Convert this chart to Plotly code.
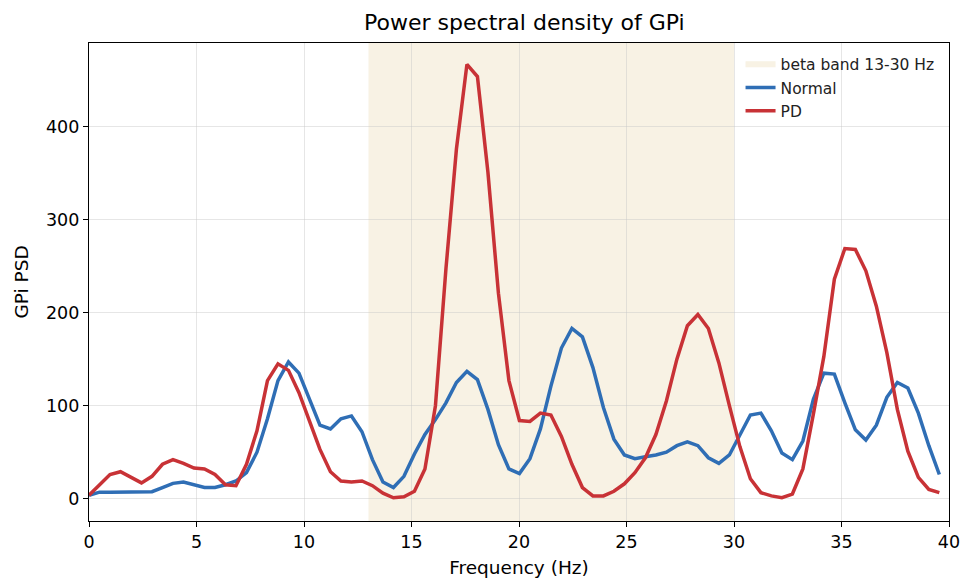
import numpy as np
import plotly.graph_objects as go

# Frequency resolution ~0.488 Hz (1000/2048)
df_hz = 1000.0 / 2048.0
n_pts = 82
freqs = [round(i * df_hz, 4) for i in range(n_pts)]

psd_normal = [
    3.6, 7, 7, 7, 7, 7, 7.5, 12, 16.5, 18,
    15, 12, 12, 15, 19, 28, 50, 86, 127, 147,
    135, 107, 79, 75, 86, 89, 72, 42, 18, 12,
    24, 48, 69, 85, 103, 125, 137, 128, 96, 58,
    32, 27, 43, 75, 121, 162, 183, 174, 141, 98,
    64, 47, 43, 45, 47, 50, 57, 61, 57, 44,
    38, 47, 68, 90, 92, 73, 49, 42, 62, 107,
    135, 134, 103, 74, 63, 79, 109, 125, 119, 92,
    57, 26,
]

psd_pd = [
    3.6, 15, 26, 29, 23, 17, 24, 37, 42, 38,
    33, 32, 26, 15, 14, 37, 73, 127, 145, 138,
    114, 84, 53, 29, 19, 18, 19, 14, 6, 1,
    2, 8, 32, 100, 247, 376, 467, 454, 351, 221,
    127, 84, 83, 92, 90, 67, 37, 12, 3, 3,
    8, 16, 28, 44, 69, 105, 150, 186, 198, 183,
    146, 100, 56, 21.5, 6.5, 3, 1, 5, 32, 91,
    153, 236, 269, 268, 245, 207, 157, 96, 51, 23,
    10, 6.5,
]

beta_low, beta_high = 13, 30
beta_label = "beta band 13-30 Hz"
series_names = ["Normal", "PD"]
series_colors = ["#2f6eb5", "#c83236"]
band_color = "rgba(222, 196, 132, 0.22)"

x_ticks = [0, 5, 10, 15, 20, 25, 30, 35, 40]
y_ticks = [0, 100, 200, 300, 400]

FONT = "DejaVu Sans"

fig = go.Figure()

# legend entry for the beta band (band itself drawn as a shape below)
fig.add_trace(go.Scatter(
    x=[None], y=[None], mode="none", fill="toself", fillcolor=band_color,
    name=beta_label, legendrank=1, hoverinfo="skip",
))

for name, vals, col, rank in zip(series_names, [psd_normal, psd_pd], series_colors, [2, 3]):
    fig.add_trace(go.Scatter(
        x=freqs, y=vals, mode="lines", name=name,
        line=dict(color=col, width=3.5), legendrank=rank,
    ))

fig.add_shape(
    type="rect", xref="x", yref="paper", x0=beta_low, x1=beta_high, y0=0, y1=1,
    fillcolor=band_color, line=dict(width=0), layer="below",
)

axis_common = dict(
    showline=True, linecolor="black", linewidth=1.3, mirror=True,
    ticks="outside", ticklen=5, tickwidth=1.2, tickcolor="black",
    showgrid=True, gridcolor="rgba(200,200,200,0.45)", gridwidth=1,
    zeroline=False, tickfont=dict(family=FONT, size=17.5, color="black"),
    automargin=False,
)

fig.update_xaxes(
    range=[0, 40], tickvals=x_ticks, ticktext=[str(t) for t in x_ticks],
    title=dict(text="Frequency (Hz)", font=dict(family=FONT, size=18.5, color="black"), standoff=10),
    **axis_common,
)
fig.update_yaxes(
    range=[-24, 490], tickvals=y_ticks, ticktext=[str(t) for t in y_ticks],
    title=dict(text="GPi PSD", font=dict(family=FONT, size=18.5, color="black"), standoff=12),
    **axis_common,
)

fig.update_layout(
    width=964, height=578,
    margin=dict(l=89, r=15, t=43, b=57),
    paper_bgcolor="white", plot_bgcolor="white",
    title=dict(text="Power spectral density of GPi", x=0.544, xanchor="center",
               y=0.962, yanchor="middle",
               font=dict(family=FONT, size=22, color="black")),
    font=dict(family=FONT, color="black"),
    legend=dict(x=0.989, xanchor="right", y=0.99, yanchor="top",
                bgcolor="rgba(0,0,0,0)", borderwidth=0,
                font=dict(family=FONT, size=15.5, color="#222"),
                tracegroupgap=0, itemwidth=30),
    showlegend=True,
)

fig.write_html("out.html")
